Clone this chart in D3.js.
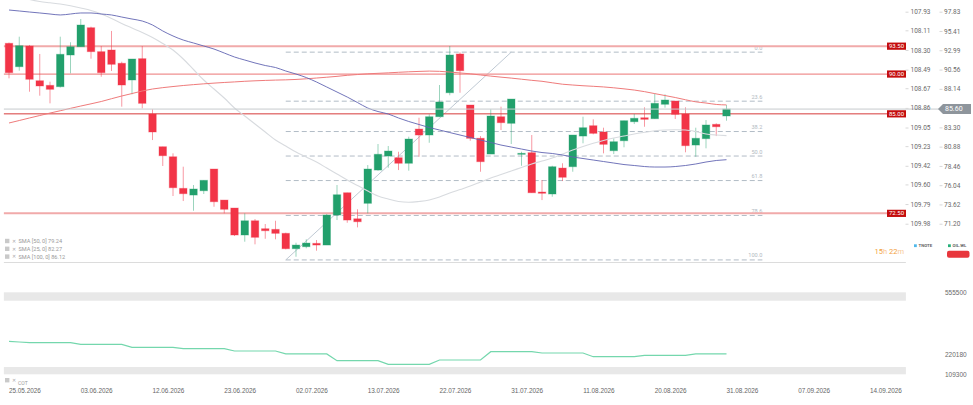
<!DOCTYPE html>
<html><head><meta charset="utf-8">
<script src="https://cdn.jsdelivr.net/npm/d3@7"></script>
<style>
html,body{margin:0;padding:0;background:#fff;overflow:hidden}
svg{display:block;font-family:Roboto,"Noto Sans",sans-serif}
</style></head><body>
<svg id="c" width="973" height="405"></svg>
<script>
// ---------------- DATA ----------------
const tickLabels = ["25.05.2026","03.06.2026","12.06.2026","23.06.2026","02.07.2026","13.07.2026","22.07.2026","31.07.2026","11.08.2026","20.08.2026","31.08.2026","07.09.2026","14.09.2026"];
const tickIndex = [2,9,16,23,30,37,44,51,58,65,72,79,86];

const open  = [93.86,90.92,93.52,89.16,88.58,88.41,92.39,93.43,95.82,92.81,93.02,91.35,89.25,91.93,84.98,80.87,79.61,75.64,74.80,75.34,78.07,74.17,73.17,69.78,71.57,70.57,70.49,69.99,68.06,68.31,68.73,68.52,72.29,75.09,71.82,73.76,77.94,79.70,79.49,78.79,83.09,82.34,84.64,87.65,92.52,86.11,81.93,79.95,84.64,83.81,79.95,80.12,75.18,74.93,78.19,78.36,82.21,83.51,82.72,80.37,81.62,84.01,84.51,84.39,86.20,86.61,84.98,81.08,81.88,83.68,84.73];
const high  = [93.95,94.69,93.65,92.52,89.04,94.69,93.99,96.91,95.95,93.52,95.41,91.55,91.89,93.52,85.57,80.87,80.04,78.36,76.06,76.65,78.07,74.17,73.17,72.50,71.79,71.16,71.57,70.07,68.81,69.24,69.15,72.42,76.06,75.09,73.01,78.57,81.21,80.96,80.24,82.13,84.51,84.94,88.62,93.52,92.73,86.11,82.21,85.57,85.90,86.86,80.24,82.34,76.69,78.48,78.79,82.34,84.64,84.31,83.26,81.93,84.14,84.98,85.82,87.58,87.45,86.61,85.82,83.26,84.22,83.81,86.11];
const low   = [89.46,90.42,87.78,87.28,86.32,88.30,90.09,93.43,91.93,89.66,90.38,85.90,87.45,85.69,81.71,78.45,74.68,74.05,72.83,74.93,73.33,72.50,69.65,68.94,68.61,69.31,69.24,67.98,67.05,68.11,67.81,68.52,71.66,71.32,70.74,72.50,77.86,78.23,77.94,77.86,79.61,81.37,84.64,87.33,87.65,81.62,77.73,79.95,82.97,81.21,78.48,75.09,74.17,74.59,76.56,77.73,81.30,82.43,80.04,79.95,80.80,83.72,83.38,84.39,85.77,84.35,80.17,79.61,80.67,82.21,84.14];
const close = [90.17,93.56,89.34,88.50,88.08,92.48,93.43,96.16,92.81,90.17,91.22,88.62,91.89,86.32,82.72,79.74,75.72,74.97,75.56,76.65,73.96,73.01,69.78,71.57,69.49,70.32,69.99,68.06,68.52,68.77,68.52,72.29,74.84,71.66,71.45,78.07,79.92,80.33,78.79,81.84,82.34,84.64,86.49,92.39,90.42,81.93,78.99,84.73,83.89,86.86,80.04,75.09,75.02,78.36,77.03,82.34,83.26,82.55,81.17,81.50,84.14,84.44,84.31,86.32,86.74,84.94,81.00,81.93,83.60,83.38,85.60];

const sma50  = [98.04,97.92,97.79,97.67,97.54,97.42,97.54,97.67,97.67,97.54,97.42,97.16,96.91,96.66,96.16,95.41,94.78,94.27,93.90,93.52,93.14,92.64,92.14,91.76,91.39,91.07,90.82,90.38,90.00,89.56,89.00,88.37,87.74,87.11,86.42,85.73,85.29,84.98,84.48,84.04,83.66,83.28,82.97,82.65,82.34,82.03,81.71,81.40,81.08,80.83,80.58,80.33,80.14,80.02,79.83,79.58,79.39,79.20,79.01,78.82,78.63,78.51,78.38,78.32,78.32,78.38,78.51,78.70,78.95,79.14,79.24];
const sma25  = [100.05,99.68,99.36,99.11,98.95,98.80,98.57,98.29,97.98,97.54,96.98,96.35,95.78,95.22,94.59,93.84,93.02,91.89,90.57,89.25,88.12,86.99,85.73,84.73,83.72,82.72,81.71,80.96,80.20,79.58,78.95,78.19,77.44,76.69,76.00,75.30,74.68,74.30,73.99,73.89,73.99,74.17,74.55,75.05,75.49,75.93,76.44,76.94,77.38,77.82,78.26,78.70,79.07,79.45,79.95,80.46,80.90,81.30,81.65,81.96,82.21,82.47,82.68,82.87,82.97,83.00,82.97,82.78,82.47,82.34,82.27];
const sma100 = [83.85,84.16,84.48,84.79,85.10,85.39,85.69,85.98,86.26,86.55,86.90,87.24,87.55,87.87,88.12,88.29,88.43,88.56,88.67,88.77,88.86,88.94,89.01,89.09,89.15,89.20,89.24,89.27,89.32,89.40,89.50,89.60,89.71,89.84,89.94,90.03,90.09,90.15,90.22,90.28,90.33,90.37,90.34,90.25,90.14,90.03,89.88,89.74,89.61,89.49,89.35,89.21,89.09,88.90,88.72,88.62,88.53,88.46,88.38,88.27,88.14,87.99,87.79,87.54,87.30,87.05,86.77,86.51,86.36,86.18,86.12];

const legendItems = ["SMA [50, 0] 79.24","SMA [25, 0] 82.27","SMA [100, 0] 86.12"];

const levels = [93.50, 90.00, 85.00, 72.50];
const lastPrice = 85.60;

const fibHigh = 92.75, fibLow = 66.65;
const fibRatios = [0, 23.6, 38.2, 50.0, 61.8, 78.6, 100.0];
const fibStartIdx = 27, fibEndIdx = 49, fibRightIdx = 73.5;

// the 85.72 tick is hidden under the last-price tag in the reference
const priceTicks = [97.83,95.41,92.99,90.56,88.14,83.30,80.88,78.46,76.04,73.62,71.20];
const tnoteTicks = [107.93,108.11,108.30,108.49,108.67,108.86,109.05,109.23,109.42,109.60,109.79,109.98];

const cot = [288850,285040,281240,281240,281240,281240,281240,272530,272530,272530,272530,272530,256210,256210,256210,256210,256210,248590,248590,248590,248590,248590,236080,236080,236080,236080,236080,220180,220180,220180,220180,220180,183300,183300,183300,183300,183300,163710,163710,163710,163710,163710,187110,187110,187110,187110,187110,232270,232270,232270,232270,232270,225190,225190,225190,225190,225190,205060,205060,205060,205060,205060,212680,212680,212680,212680,212680,220180,220180,220180,220180];
const cotTicks = [555500, 220180, 109300];
const cotBands = [[509700, 555500],[109300, 149000]];

// ---------------- LAYOUT ----------------
const W=973,H=405;
const plotL=3.875, plotR=905.875, nSlots=88;
const mainTop=0, mainBottom=262;
const svg=d3.select('#c');
svg.append('rect').attr('width',W).attr('height',H).attr('fill','#fff');

const x=d3.scaleBand().domain(d3.range(nSlots)).range([plotL,plotR]).paddingInner(0.27).paddingOuter(0.135);
const xl=d3.scaleLinear().domain([-0.5,nSlots-0.5]).range([plotL,plotR]);
const y=d3.scaleLinear().domain([66.39,99.30]).range([mainBottom,mainTop]);
const yT=d3.scaleLinear().domain([107.93,109.98]).range([y(97.83),y(71.20)]);
const yC=d3.scaleLinear().domain([109300,555500]).range([374.3,292.3]);
const bw=x.bandwidth();
const cx=i=>x(i)+bw/2;

svg.append('defs').append('clipPath').attr('id','clipMain').append('rect')
  .attr('x',plotL-1).attr('y',mainTop).attr('width',plotR-plotL+1).attr('height',mainBottom-mainTop);

const main=svg.append('g').attr('clip-path','url(#clipMain)');

// Fibonacci
const fibG=main.append('g');
const fibVal=r=>fibHigh-(fibHigh-fibLow)*r/100;
fibG.selectAll('line.fib').data(fibRatios).join('line')
  .attr('x1',xl(fibStartIdx)).attr('x2',xl(fibRightIdx))
  .attr('y1',d=>y(fibVal(d))).attr('y2',d=>y(fibVal(d)))
  .attr('stroke','#a9b4bf').attr('stroke-width',0.9).attr('stroke-dasharray','5,3');
fibG.selectAll('text').data(fibRatios).join('text')
  .attr('x',xl(fibRightIdx)).attr('y',d=>y(fibVal(d))-2.5)
  .attr('text-anchor','end').attr('font-size',5.6).attr('fill','#b3bac2')
  .text(d=>d.toFixed(1));
fibG.append('line')
  .attr('x1',xl(fibStartIdx)).attr('y1',y(fibLow))
  .attr('x2',xl(fibEndIdx)).attr('y2',y(fibHigh))
  .attr('stroke','#b8c3ce').attr('stroke-width',0.9);

// Level lines (style per level as in the reference)
const levelStyle=v=> v===85.00 ? {c:'#d63a3a',w:1} : (v===90.00 ? {c:'#ef9090',w:1.2} : {c:'#f1aaaa',w:2});
levels.forEach(v=>{
  const s=levelStyle(v);
  main.append('line').attr('x1',plotL).attr('x2',plotR).attr('y1',y(v)).attr('y2',y(v))
    .attr('stroke',s.c).attr('stroke-width',s.w);
});
// last price line
svg.append('line').attr('x1',plotL).attr('x2',939).attr('y1',y(lastPrice)).attr('y2',y(lastPrice))
  .attr('stroke','#c6cacd').attr('stroke-width',1);

// Candles
const idx=d3.range(open.length);
const cg=main.append('g');
const col=i=>close[i]>=open[i]?'#22a06c':'#f23447';
const wcol=i=>close[i]>=open[i]?'rgba(34,160,108,0.45)':'rgba(242,52,71,0.5)';
cg.selectAll('line.w').data(idx).join('line')
  .attr('x1',cx).attr('x2',cx).attr('y1',i=>y(high[i])).attr('y2',i=>y(low[i]))
  .attr('stroke',wcol).attr('stroke-width',1);
cg.selectAll('rect').data(idx).join('rect')
  .attr('x',i=>x(i)).attr('width',bw)
  .attr('y',i=>y(Math.max(open[i],close[i])))
  .attr('height',i=>Math.max(1,Math.abs(y(open[i])-y(close[i]))))
  .attr('fill',col).attr('stroke',i=>close[i]>=open[i]?'rgba(34,160,108,0.35)':'rgba(242,52,71,0.35)').attr('stroke-width',1);

// SMA lines
const line=arr=>d3.line().x((d,i)=>cx(i)).y(d=>y(d)).curve(d3.curveMonotoneX)(arr);
main.append('path').attr('d',line(sma25)).attr('fill','none').attr('stroke','#d8dbdf').attr('stroke-width',1.1);
main.append('path').attr('d',line(sma100)).attr('fill','none').attr('stroke','#ef7b7b').attr('stroke-width',1);
main.append('path').attr('d',line(sma50)).attr('fill','none').attr('stroke','#6265b2').attr('stroke-width',0.9);

// bottom separator of main panel
svg.append('line').attr('x1',plotL).attr('x2',plotR).attr('y1',mainBottom+0.5).attr('y2',mainBottom+0.5)
  .attr('stroke','#dcdcdc').attr('stroke-width',1);

// Level labels
levels.forEach(v=>{
  svg.append('rect').attr('x',887).attr('y',y(v)-3.6).attr('width',19).attr('height',7.2).attr('fill','#c40d0d');
  svg.append('text').attr('x',896.5).attr('y',y(v)+2.1).attr('text-anchor','middle')
    .attr('font-size',6).attr('fill','#fff').text(v.toFixed(2));
});

// Right axes
const ax1=svg.append('g').attr('transform','translate(905.5,0)')
  .call(d3.axisRight(yT).tickValues(tnoteTicks).tickFormat(d3.format('.2f')).tickSize(3).tickPadding(2));
const ax2=svg.append('g').attr('transform','translate(939.5,0)')
  .call(d3.axisRight(y).tickValues(priceTicks).tickFormat(d3.format('.2f')).tickSize(3).tickPadding(1.5));
[ax1,ax2].forEach(a=>{
  a.select('.domain').remove();
  a.selectAll('line').attr('stroke','#d8d8d8');
  a.selectAll('text').attr('font-size',6.5).attr('fill','#6a6a6a').attr('font-family','Roboto,sans-serif');
});

// last price tag
const ly=y(lastPrice);
svg.append('path').attr('d',`M938,${ly} L943,${ly-5} L971,${ly-5} L971,${ly+5} L943,${ly+5} Z`).attr('fill','#8e959c');
svg.append('text').attr('x',945).attr('y',ly+2.4).attr('font-size',7).attr('fill','#fff').text(lastPrice.toFixed(2));

// SMA legend
const lg=svg.append('g');
legendItems.forEach((t,k)=>{
  const yy=241+k*7.8;
  lg.append('rect').attr('x',5).attr('y',yy-2.2).attr('width',4.4).attr('height',4.4).attr('fill','#c9c9c9');
  lg.append('text').attr('x',11.5).attr('y',yy+1.8).attr('font-size',5).attr('fill','#aaa').text('✕');
  lg.append('text').attr('x',18.5).attr('y',yy+2).attr('font-size',5.6).attr('fill','#9a9a9a').text(t);
});

// Time left and legend for instruments
const tt=svg.append('text').attr('x',904).attr('y',254).attr('text-anchor','end').attr('font-size',7.5);
tt.append('tspan').attr('fill','#f3a03c').text('15');
tt.append('tspan').attr('fill','#f8c995').text('h ');
tt.append('tspan').attr('fill','#f3a03c').text('22');
tt.append('tspan').attr('fill','#f8c995').text('m');
svg.append('rect').attr('x',914).attr('y',244.3).attr('width',2.8).attr('height',2.8).attr('fill','#4fb8ea');
svg.append('text').attr('x',918.5).attr('y',247.2).attr('font-size',4.3).attr('font-weight','bold').attr('fill','#666').text('TNOTE');
svg.append('rect').attr('x',948).attr('y',244.3).attr('width',2.8).attr('height',2.8).attr('fill','#25b07a');
svg.append('text').attr('x',952.5).attr('y',247.2).attr('font-size',4.3).attr('font-weight','bold').attr('fill','#666').text('OIL.WL');
svg.append('rect').attr('x',947).attr('y',250.7).attr('width',22.5).attr('height',7).attr('rx',2).attr('fill','#e8363c');

// ---------------- LOWER PANEL (COT) ----------------
const low2=svg.append('g');
low2.selectAll('rect.band').data(cotBands).join('rect')
  .attr('x',plotL).attr('width',plotR-plotL)
  .attr('y',d=>yC(d[1])).attr('height',d=>yC(d[0])-yC(d[1]))
  .attr('fill','#e8e8e8');
low2.append('path').attr('d',d3.line().x((d,i)=>cx(i)).y(d=>yC(d))(cot))
  .attr('fill','none').attr('stroke','#74d7ad').attr('stroke-width',1.2);
const ax3=svg.append('g').attr('transform','translate(941,0)')
  .call(d3.axisRight(yC).tickValues(cotTicks).tickFormat(d3.format('d')).tickSize(0).tickPadding(4));
ax3.select('.domain').remove();
ax3.selectAll('text').attr('font-size',6.5).attr('fill','#6a6a6a');

// COT legend
svg.append('rect').attr('x',5).attr('y',378).attr('width',4.4).attr('height',4.4).attr('fill','#c9c9c9');
svg.append('text').attr('x',11.5).attr('y',382).attr('font-size',5).attr('fill','#aaa').text('✕');
svg.append('text').attr('x',18).attr('y',384.5).attr('font-size',5).attr('fill','#9a9a9a').text('COT');

// X axis
const axX=svg.append('g').attr('transform','translate(0,388.3)')
  .call(d3.axisBottom(xl).tickValues(tickIndex.map(d=>d-0.5)).tickFormat((d,k)=>tickLabels[k]).tickSize(0).tickPadding(0));
axX.select('.domain').remove();
axX.selectAll('text').attr('font-size',6.4).attr('fill','#666');
</script>
</body></html>
